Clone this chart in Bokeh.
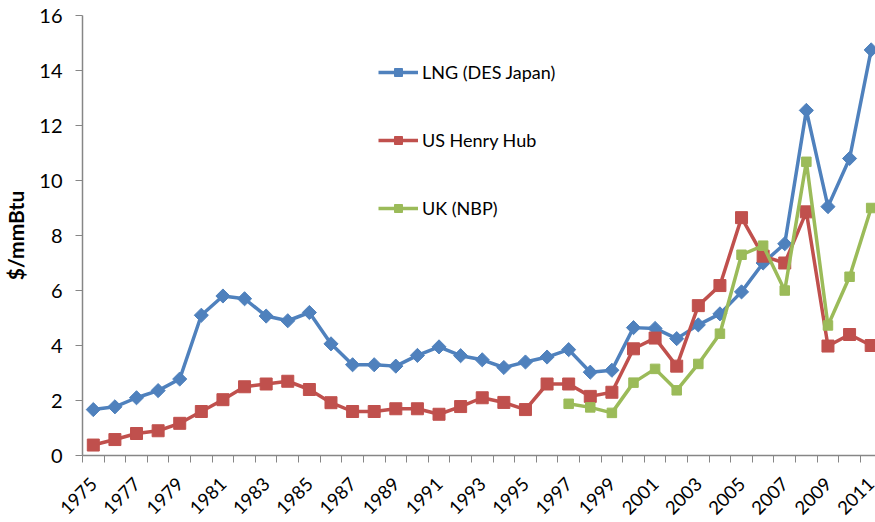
import math
from bokeh.plotting import figure
from bokeh.models import (Range1d, FixedTicker, Legend, LegendItem, ColumnDataSource)
from bokeh.embed import file_html
from bokeh.resources import INLINE

# ---------------- data ----------------
years = list(range(1975, 2012))
lng_des_japan = [1.67, 1.77, 2.1, 2.36, 2.78, 5.1, 5.8, 5.7, 5.07, 4.9, 5.2, 4.06,
                 3.3, 3.3, 3.25, 3.64, 3.95, 3.63, 3.48, 3.2, 3.4, 3.58, 3.85, 3.03,
                 3.1, 4.65, 4.62, 4.25, 4.75, 5.15, 5.95, 7.0, 7.7, 12.55, 9.05, 10.8, 14.75]
us_henry_hub = [0.38, 0.58, 0.8, 0.9, 1.17, 1.6, 2.03, 2.5, 2.6, 2.7, 2.4, 1.92,
                1.6, 1.6, 1.7, 1.7, 1.5, 1.78, 2.1, 1.93, 1.67, 2.6, 2.6, 2.15,
                2.3, 3.88, 4.27, 3.25, 5.45, 6.18, 8.65, 7.25, 7.0, 8.86, 3.98, 4.4, 4.0]
uk_years = list(range(1997, 2012))
uk_nbp = [1.88, 1.75, 1.55, 2.65, 3.15, 2.37, 3.33, 4.43, 7.3, 7.63, 6.0, 10.68, 4.73, 6.5, 9.0]

series_names = ["LNG (DES Japan)", "US Henry Hub", "UK (NBP)"]
x_tick_labels = [str(y) for y in range(1975, 2012, 2)]
y_ticks = [0, 2, 4, 6, 8, 10, 12, 14, 16]
y_label = "$/mmBtu"

BLUE = "#4F81BD"
RED = "#C0504D"
GREEN = "#9BBB59"
AXIS = "#868686"
FONT = "Lato"

p = figure(width=875, height=522, output_backend="svg", toolbar_location=None,
           x_range=Range1d(1974.5, 2011.2), y_range=Range1d(0, 16),
           min_border_left=82, min_border_right=0, min_border_top=15, min_border_bottom=67)
p.frame_width = 793
p.frame_height = 440
p.outline_line_color = None
p.grid.visible = False

src_main = ColumnDataSource(dict(x=years, lng=lng_des_japan, hh=us_henry_hub))
src_uk = ColumnDataSource(dict(x=uk_years, uk=uk_nbp))

l1 = p.line("x", "lng", source=src_main, line_color=BLUE, line_width=3.5)
m1 = p.scatter("x", "lng", source=src_main, marker="square", angle=math.pi / 4,
               size=10, fill_color=BLUE, line_color=BLUE)
l2 = p.line("x", "hh", source=src_main, line_color=RED, line_width=3.5)
m2 = p.scatter("x", "hh", source=src_main, marker="square", size=12,
               fill_color=RED, line_color=RED)
l3 = p.line("x", "uk", source=src_uk, line_color=GREEN, line_width=3.5)
m3 = p.scatter("x", "uk", source=src_uk, marker="square", size=9.5,
               fill_color=GREEN, line_color=GREEN)

# x axis: ticks at category boundaries, labels at every other year
xa = p.xaxis[0]
xa.ticker = FixedTicker(ticks=[int(t) for t in x_tick_labels],
                        minor_ticks=[y - 0.5 for y in years] + [years[-1] + 0.5])
xa.major_tick_line_color = None
xa.minor_tick_line_color = AXIS
xa.minor_tick_out = 7
xa.minor_tick_in = 0
xa.axis_line_color = AXIS
xa.axis_line_width = 1.5
xa.major_label_orientation = math.pi / 4
xa.major_label_text_font = FONT
xa.major_label_text_font_size = "18.5px"
xa.major_label_text_color = "#000000"
xa.major_label_standoff = 18

ya = p.yaxis[0]
ya.ticker = FixedTicker(ticks=y_ticks)
ya.minor_tick_line_color = None
ya.major_tick_line_color = AXIS
ya.major_tick_out = 7
ya.major_tick_in = 0
ya.axis_line_color = AXIS
ya.axis_line_width = 1.5
ya.major_label_text_font = FONT
ya.major_label_text_font_size = "20px"
ya.major_label_text_color = "#000000"
ya.major_label_standoff = 13
ya.axis_label = y_label
ya.axis_label_text_font = FONT
ya.axis_label_text_font_size = "21px"
ya.axis_label_text_font_style = "bold"
ya.axis_label_text_color = "#000000"
ya.axis_label_standoff = 8

legend = Legend(items=[LegendItem(label=series_names[0], renderers=[l1, m1]),
                       LegendItem(label=series_names[1], renderers=[l2, m2]),
                       LegendItem(label=series_names[2], renderers=[l3, m3])],
                location=(296, 236), orientation="vertical")
legend.glyph_width = 40
legend.glyph_height = 20
legend.label_height = 20
legend.spacing = 46
legend.label_standoff = 4
legend.padding = 0
legend.margin = 0
legend.border_line_alpha = 0
legend.background_fill_alpha = 0
legend.label_text_font = FONT
legend.label_text_font_size = "18px"
legend.label_text_color = "#000000"
p.add_layout(legend, "center")

open("out.html", "w").write(file_html(p, INLINE))
